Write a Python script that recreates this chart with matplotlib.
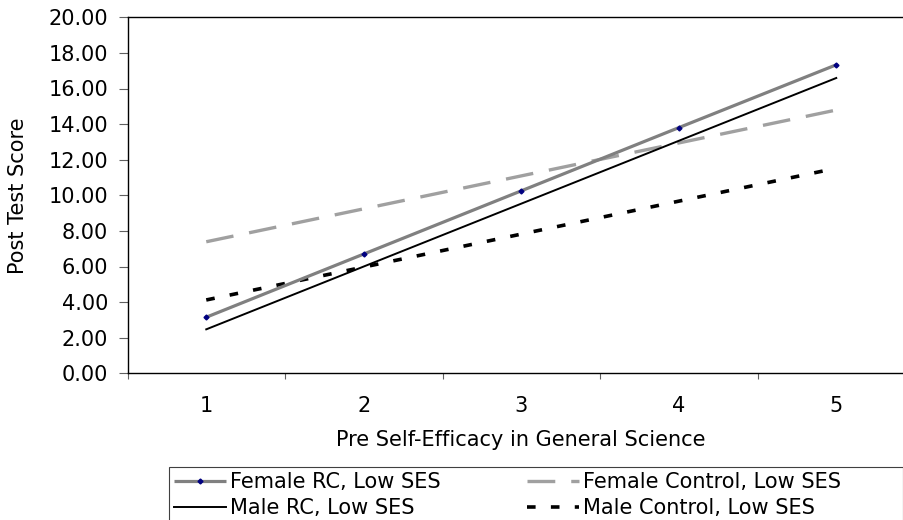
import matplotlib
matplotlib.use("Agg")
import matplotlib.pyplot as plt
from matplotlib.patches import Rectangle

plt.rcParams['font.family'] = ['DejaVu Sans']
plt.rcParams['lines.scale_dashes'] = False

categories = [1, 2, 3, 4, 5]
female_rc = [3.15, 6.70, 10.25, 13.80, 17.33]
male_rc = [2.47, 6.00, 9.53, 13.06, 16.59]
female_ctrl = [7.39, 9.24, 11.09, 12.94, 14.79]
male_ctrl = [4.12, 5.97, 7.82, 9.67, 11.52]
series_names = ["Female RC, Low SES", "Male RC, Low SES",
                "Female Control, Low SES", "Male Control, Low SES"]
yticks = [0, 2, 4, 6, 8, 10, 12, 14, 16, 18, 20]

W, H = 904, 520
fig = plt.figure(figsize=(W / 100, H / 100), dpi=100)
ax = fig.add_axes([127.5 / W, 1 - 373.3 / H, (915 - 127.5) / W, (373.3 - 17.3) / H])

fs = 15
l1, = ax.plot(categories, female_rc, color='#808080', lw=2.3, marker='D', ms=2.5,
              mfc='#000080', mec='#000080', solid_capstyle='butt', zorder=4)
l2, = ax.plot(categories, male_rc, color='black', lw=1.4, zorder=3)
l3, = ax.plot(categories, female_ctrl, color='#a0a0a0', lw=2.4,
              dashes=(20, 11.5), dash_capstyle='butt', zorder=2)
l4, = ax.plot(categories, male_ctrl, color='black', lw=2.6,
              dashes=(6.2, 11), dash_capstyle='butt', zorder=2)

ax.set_xlim(0.5, 5.5)
ax.set_ylim(0, 20)
ax.set_yticks(yticks)
ax.set_yticklabels([f"{v:.2f}" for v in yticks], fontsize=fs)
ax.set_xticks([c + 0.5 for c in [0] + categories])
ax.set_xticklabels([])
ax.set_xticks(categories, minor=True)
ax.set_xticklabels([str(c) for c in categories], minor=True, fontsize=fs)
ax.tick_params(axis='x', which='minor', length=0, pad=16.5)
ax.tick_params(axis='x', which='major', length=4.3, width=0.8, color='#606060', direction='out')
ax.tick_params(axis='y', length=6.3, width=0.8, color='#606060', direction='out', pad=7.5)

for s in ['left', 'bottom', 'top', 'right']:
    ax.spines[s].set_linewidth(1.0)
    ax.spines[s].set_color('black')

ax.set_xlabel("Pre Self-Efficacy in General Science", fontsize=fs, labelpad=10)
ax.set_ylabel("Post Test Score", fontsize=fs, labelpad=15)

leg = fig.legend([l1, l2, l3, l4], series_names, ncol=2, loc='upper left',
                 bbox_to_anchor=(169 / W, 1 - 467 / H), fontsize=fs,
                 frameon=False,
                 handlelength=2.5, handletextpad=0.2, columnspacing=4.1,
                 borderpad=0.25, labelspacing=0.28, borderaxespad=0)

fig.patches.append(Rectangle((169 / W, -0.05), (903 - 169) / W, (1 - 467 / H) + 0.05,
                             transform=fig.transFigure, fill=False,
                             edgecolor='#404040', lw=0.8))

fig.savefig("out.png", dpi=100)
